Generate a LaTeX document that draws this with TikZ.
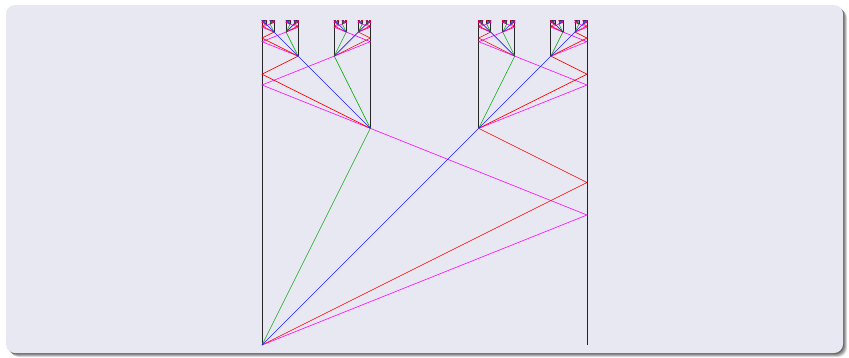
\documentclass[tikz,border=0pt]{standalone}
\definecolor{panelbg}{RGB}{232,232,242}
\definecolor{cmag}{RGB}{255,0,255}
\definecolor{cgreen}{RGB}{20,170,20}
\definecolor{cblue}{RGB}{30,30,255}
\definecolor{cred}{RGB}{255,0,0}
\tikzset{
  wall/.style={line width=0.8pt, black!85},
  gline/.style={line width=0.6pt, cgreen},
  bline/.style={line width=0.6pt, cblue},
  rline/.style={line width=0.6pt, cred},
  mline/.style={line width=0.6pt, cmag},
  panel/.style={fill=panelbg, rounded corners=9pt},
}
% #1 origin x, #2 direction (+1/-1), #3 width, #4 bottom y, #5 depth
\newcommand\cantorblk[5]{%
  \ifnum#5>0
  \begingroup
  \pgfmathsetmacro\xa{#1+(#2)*(#3)/3}%
  \pgfmathsetmacro\xb{#1+(#2)*2*(#3)/3}%
  \pgfmathsetmacro\xc{#1+(#2)*(#3)}%
  \pgfmathsetmacro\yt{#4-2*(#3)/3}%
  \pgfmathsetmacro\yr{#4-(#3)/2}%
  \pgfmathsetmacro\ym{#4-2*(#3)/5}%
  \pgfmathsetmacro\wc{(#3)/3}%
  \pgfmathsetmacro\nd{0-(#2)}%
  \coordinate (o) at (#1,#4);
  \coordinate (ta) at (\xa,\yt);
  \coordinate (tb) at (\xb,\yt);
  \coordinate (hr) at (\xc,\yr);
  \coordinate (hm) at (\xc,\ym);
  \draw[wall] (o) -- (#1,\yt);
  \draw[wall] (\xc,#4) -- (\xc,\yt);
  \draw[mline] (o) -- (hm) -- (ta);
  \draw[rline] (o) -- (hr) -- (tb);
  \draw[gline] (o) -- (ta);
  \draw[bline] (o) -- (tb);
  \edef\cantortmp{\noexpand\cantorblk{\xa}{\nd}{\wc}{\yt}{\the\numexpr#5-1\relax}%
    \noexpand\cantorblk{\xb}{#2}{\wc}{\yt}{\the\numexpr#5-1\relax}}%
  \expandafter\endgroup\cantortmp
  \fi}
\begin{document}
\begin{tikzpicture}[x=1pt,y=-1pt]
\useasboundingbox (0,0) rectangle (849,357);
% shadow
\foreach \s/\o in {4/0.14,3/0.18,2/0.22,1/0.26}{
  \fill[black,opacity=\o,rounded corners=9pt] (6+\s,5+\s) rectangle (843+\s,353+\s);
}
\fill[panel] (6,5) rectangle (843,353);
\cantorblk{262}{1}{325}{345}{6}
\end{tikzpicture}
\end{document}
